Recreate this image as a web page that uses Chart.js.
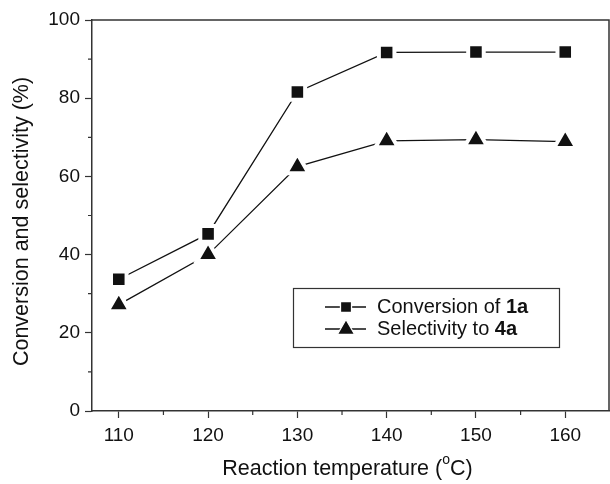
<!DOCTYPE html>
<html>
<head>
<meta charset="utf-8">
<script src="https://cdn.jsdelivr.net/npm/chart.js@4.4.1/dist/chart.umd.min.js"></script>
<style>
  html, body { margin: 0; padding: 0; background: #fff; }
</style>
</head>
<body>
<canvas id="tempChart" width="610" height="484"></canvas>
<script>
// data
const temperatures = [110, 120, 130, 140, 150, 160];
const conversion1a = [33.7, 45.3, 81.6, 91.7, 91.8, 91.8];
const selectivity4a = [27.2, 40.0, 62.5, 69.1, 69.4, 68.9];

const xTicks = [110, 120, 130, 140, 150, 160];
const xMinorTicks = [115, 125, 135, 145, 155];
const yTicks = [0, 20, 40, 60, 80, 100];
const yMinorTicks = [10, 30, 50, 70, 90];

const legendNames = ['Conversion of ', 'Selectivity to '];
const legendCompounds = ['1a', '4a'];
const pointStyles = ['rect', 'triangle'];

const FONT = "'Liberation Sans', Arial, sans-serif";
const INK = '#111';
const FRAME = '#333';

function toPoints(values) {
  return temperatures.map((t, i) => ({ x: t, y: values[i] }));
}

// top/right frame + minor ticks
const framePlugin = {
  id: 'frame',
  afterDraw(chart) {
    const { ctx, chartArea: a, scales } = chart;
    ctx.save();
    ctx.strokeStyle = FRAME;
    ctx.lineWidth = 1.5;
    ctx.beginPath();
    ctx.moveTo(a.left, a.top);
    ctx.lineTo(a.right, a.top);
    ctx.lineTo(a.right, a.bottom);
    ctx.stroke();

    ctx.lineWidth = 1.2;
    ctx.beginPath();
    xMinorTicks.forEach(v => {
      const px = scales.x.getPixelForValue(v);
      ctx.moveTo(px, a.bottom);
      ctx.lineTo(px, a.bottom + 4);
    });
    yMinorTicks.forEach(v => {
      const py = scales.y.getPixelForValue(v);
      ctx.moveTo(a.left, py);
      ctx.lineTo(a.left - 4, py);
    });
    ctx.stroke();
    ctx.restore();
  }
};

// axis titles (x one has a superscript o)
const titlesPlugin = {
  id: 'axisTitles',
  afterDraw(chart) {
    const { ctx, chartArea: a } = chart;
    const main = '21.5px ' + FONT;
    const small = '14px ' + FONT;
    const parts = [
      { t: 'Reaction temperature (', f: main, dy: 0 },
      { t: 'o', f: small, dy: -9 },
      { t: 'C)', f: main, dy: 0 }
    ];
    ctx.save();
    ctx.fillStyle = INK;
    ctx.textBaseline = 'middle';
    let total = 0;
    parts.forEach(p => { ctx.font = p.f; p.w = ctx.measureText(p.t).width; total += p.w; });
    let x = (a.left + a.right) / 2 - 3 - total / 2;
    const y = a.bottom + 58;
    parts.forEach(p => {
      ctx.font = p.f;
      ctx.fillText(p.t, x, y + p.dy);
      x += p.w;
    });

    // y title, rotated
    ctx.font = main;
    ctx.textAlign = 'center';
    ctx.translate(22, (a.top + a.bottom) / 2 + 6);
    ctx.rotate(-Math.PI / 2);
    ctx.fillText('Conversion and selectivity (%)', 0, 0);
    ctx.restore();
  }
};

// boxed legend inside the plot
const boxLegendPlugin = {
  id: 'boxLegend',
  afterDraw(chart) {
    const { ctx, chartArea: a } = chart;
    const boxX = a.left + 201.5, boxY = a.top + 268.5, boxW = 266, boxH = 59;
    ctx.save();
    ctx.strokeStyle = FRAME;
    ctx.lineWidth = 1.2;
    ctx.strokeRect(boxX, boxY, boxW, boxH);

    chart.data.datasets.forEach((ds, i) => {
      const rowY = boxY + 18.5 + i * 22;
      const lx = boxX + 31.5;
      ctx.strokeStyle = INK;
      ctx.lineWidth = 1.3;
      ctx.beginPath();
      ctx.moveTo(lx, rowY);
      ctx.lineTo(lx + 41, rowY);
      ctx.stroke();

      ctx.fillStyle = INK;
      ctx.strokeStyle = '#fff';
      Chart.helpers.drawPoint(ctx, {
        pointStyle: pointStyles[i],
        radius: i === 0 ? 7.8 : 10,
        rotation: 0,
        borderWidth: 3
      }, lx + 21, rowY + (i === 0 ? 0 : 0.5));

      ctx.fillStyle = INK;
      ctx.textBaseline = 'middle';
      ctx.font = '20px ' + FONT;
      const tx = lx + 52;
      ctx.fillText(legendNames[i], tx, rowY);
      const w = ctx.measureText(legendNames[i]).width;
      ctx.font = 'bold 20px ' + FONT;
      ctx.fillText(legendCompounds[i], tx + w, rowY);
    });
    ctx.restore();
  }
};

const ctx = document.getElementById('tempChart').getContext('2d');

new Chart(ctx, {
  type: 'line',
  data: {
    datasets: [
      {
        label: legendNames[0] + legendCompounds[0],
        data: toPoints(conversion1a),
        borderColor: INK,
        borderWidth: 1.3,
        backgroundColor: INK,
        pointStyle: pointStyles[0],
        pointRadius: 11,
        pointBorderWidth: 4,
        pointBorderColor: '#fff',
        pointBackgroundColor: INK,
        tension: 0
      },
      {
        label: legendNames[1] + legendCompounds[1],
        data: toPoints(selectivity4a),
        borderColor: INK,
        borderWidth: 1.3,
        backgroundColor: INK,
        pointStyle: pointStyles[1],
        pointRadius: 13,
        pointBorderWidth: 4,
        pointBorderColor: '#fff',
        pointBackgroundColor: INK,
        tension: 0
      }
    ]
  },
  options: {
    responsive: false,
    animation: false,
    layout: { autoPadding: false, padding: { top: 20, right: 1, left: 0, bottom: 0 } },
    plugins: {
      legend: { display: false },
      tooltip: { enabled: false }
    },
    scales: {
      x: {
        type: 'linear',
        min: 107,
        max: 164.9,
        afterBuildTicks(scale) {
          scale.ticks = xTicks.map(v => ({ value: v }));
        },
        afterFit(scale) {
          scale.height = 73;
          scale.paddingLeft = 0;
          scale.paddingRight = 0;
        },
        grid: {
          drawOnChartArea: false,
          drawTicks: true,
          tickLength: 7,
          tickColor: FRAME,
          tickWidth: 1.2
        },
        border: { display: true, color: FRAME, width: 1.5 },
        ticks: {
          color: INK,
          font: { family: FONT, size: 19 },
          padding: 6,
          maxRotation: 0,
          autoSkip: false
        }
      },
      y: {
        min: 0,
        max: 100,
        afterBuildTicks(scale) {
          scale.ticks = yTicks.map(v => ({ value: v }));
        },
        afterFit(scale) {
          scale.width = 92;
          scale.paddingTop = 0;
          scale.paddingBottom = 0;
        },
        grid: {
          drawOnChartArea: false,
          drawTicks: true,
          tickLength: 7,
          tickColor: FRAME,
          tickWidth: 1.2
        },
        border: { display: true, color: FRAME, width: 1.5 },
        ticks: {
          color: INK,
          font: { family: FONT, size: 19 },
          padding: 5,
          autoSkip: false
        }
      }
    }
  },
  plugins: [framePlugin, titlesPlugin, boxLegendPlugin]
});
</script>
</body>
</html>
